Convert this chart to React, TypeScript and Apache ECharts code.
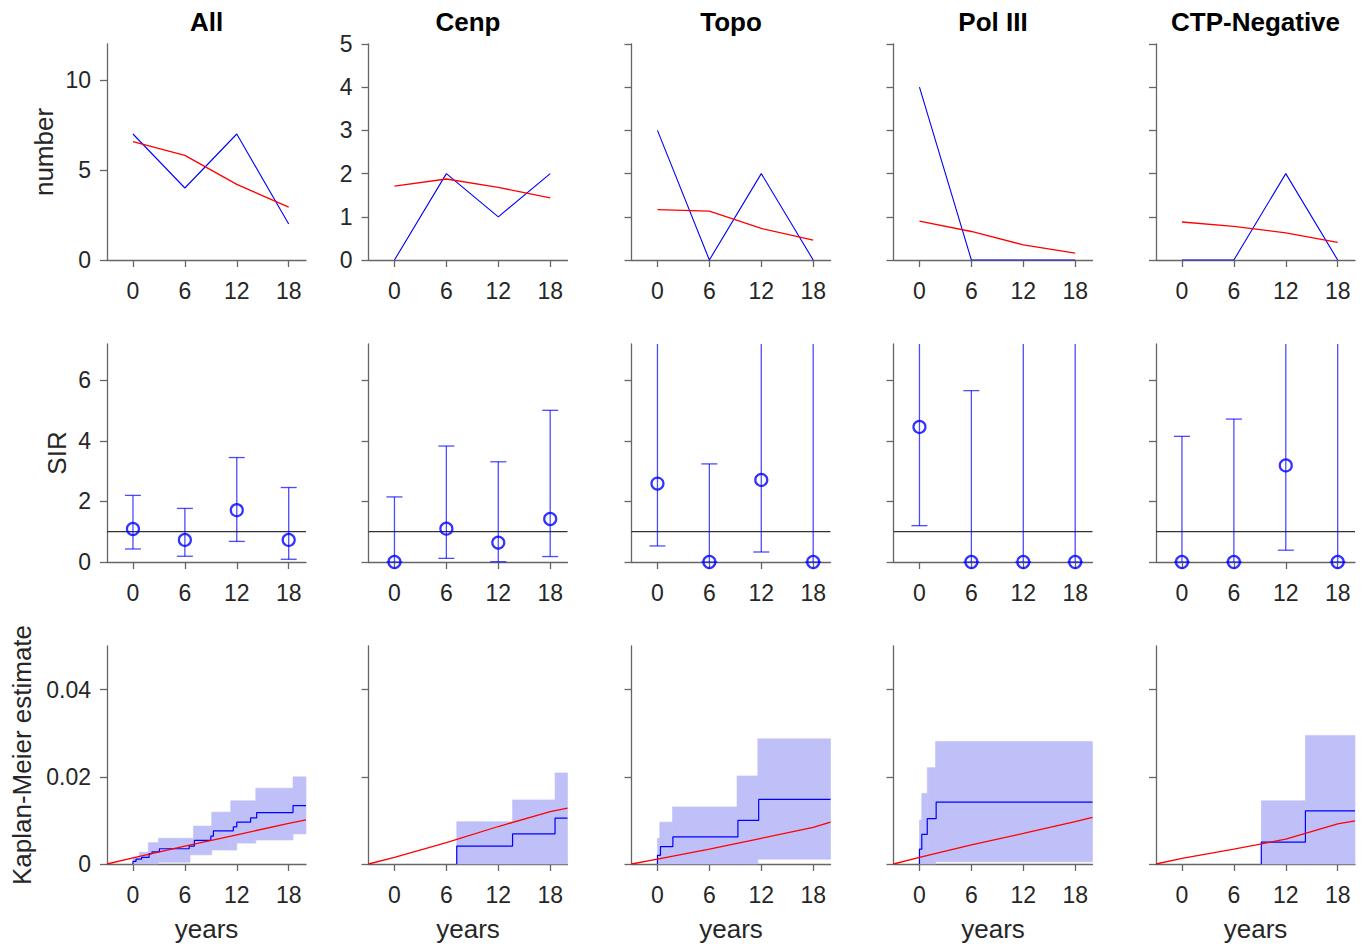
import React, { useEffect, useRef } from "react";
import * as echarts from "echarts";

// ---------------- data ----------------
const GROUPS = ["All", "Cenp", "Topo", "Pol III", "CTP-Negative"];
const YEARS = [0, 6, 12, 18];
const X_TICKS = [0, 6, 12, 18];
const X_MIN = -3;
const X_MAX = 20;

// Row 1: observed (blue) and expected (red) numbers
const OBSERVED = [
  [7, 4, 7, 2],
  [0, 2, 1, 2],
  [3, 0, 2, 0],
  [4, 0, 0, 0],
  [0, 0, 2, 0],
];
const EXPECTED = [
  [6.57, 5.81, 4.2, 2.94],
  [1.71, 1.875, 1.68, 1.44],
  [1.165, 1.13, 0.73, 0.46],
  [0.9, 0.66, 0.35, 0.16],
  [0.88, 0.78, 0.63, 0.41],
];
const NUMBER_MAX = [12, 5, 5, 5, 5];
const NUMBER_TICKS = [
  [0, 5, 10],
  [0, 1, 2, 3, 4, 5],
  [0, 1, 2, 3, 4, 5],
  [0, 1, 2, 3, 4, 5],
  [0, 1, 2, 3, 4, 5],
];

// Row 2: SIR with confidence intervals
const SIR = [
  [1.09, 0.73, 1.71, 0.73],
  [0, 1.1, 0.64, 1.42],
  [2.59, 0, 2.71, 0],
  [4.46, 0, 0, 0],
  [0, 0, 3.19, 0],
];
const SIR_LO = [
  [0.43, 0.19, 0.68, 0.09],
  [0, 0.12, 0.01, 0.18],
  [0.53, 0, 0.33, 0],
  [1.2, 0, 0, 0],
  [0, 0, 0.39, 0],
];
const SIR_HI = [
  [2.2, 1.77, 3.45, 2.46],
  [2.15, 3.83, 3.31, 5.01],
  [7.5, 3.24, 9.9, 8.0],
  [11.4, 5.66, 10.5, 23],
  [4.15, 4.72, 11.5, 9.0],
];
const SIR_REF = 1;
const SIR_MAX = 7.2;
const SIR_TICKS = [0, 2, 4, 6];

// Row 3: Kaplan-Meier step estimate (event times and values after each event)
const KM_T = [
  [0, 0.35, 1.0, 1.86, 2.2, 3.06, 6.5, 7.1, 9.0, 9.3, 11.6, 12.0, 13.6, 14.3, 18.5],
  [7.2, 13.65, 18.56],
  [0, 0.35, 1.78, 9.3, 11.7],
  [0, 0.27, 0.9, 1.93],
  [9.17, 14.27],
];
const KM_V = [
  [0.0006, 0.0011, 0.0015, 0.0024, 0.0028, 0.0035, 0.0041, 0.0054, 0.0064, 0.0076, 0.0085, 0.0096, 0.0106, 0.0118, 0.0134],
  [0.0041, 0.0069, 0.0105],
  [0.002, 0.004, 0.0062, 0.01, 0.0148],
  [0.0034, 0.0068, 0.0104, 0.0142],
  [0.005, 0.0122],
];
// confidence band: segment boundaries and lower/upper values per segment
const BAND_T = [
  [0, 0.74, 1.78, 2.94, 6.6, 7.0, 9.1, 11.3, 12.0, 14.2, 18.5, 20],
  [7.2, 13.65, 18.56, 20],
  [0, 0.27, 1.74, 9.2, 11.6, 20],
  [0, 0.27, 0.9, 1.86, 20],
  [9.17, 14.27, 20],
];
const BAND_LO = [
  [0, 0, 0, 0.0004, 0.0021, 0.0021, 0.0032, 0.0032, 0.0048, 0.0055, 0.0069],
  [0, 0, 0],
  [0, 0, 0, 0, 0.0011],
  [0, 0, 0, 0.0005],
  [0, 0],
];
const BAND_HI = [
  [0.0015, 0.0027, 0.0049, 0.0059, 0.0059, 0.0087, 0.0119, 0.0145, 0.0145, 0.0174, 0.02],
  [0.0097, 0.0147, 0.0209],
  [0.0059, 0.0096, 0.0131, 0.0202, 0.0287],
  [0.0101, 0.0162, 0.0221, 0.0281],
  [0.0145, 0.0295],
];
// expected cumulative incidence (red)
const EXP_KM_T = [-3, 0, 6, 12, 18, 20];
const EXP_KM_V = [
  [0, 0.0014, 0.0041, 0.0067, 0.0093, 0.0101],
  [0, 0.0015, 0.0049, 0.0086, 0.012, 0.0128],
  [0, 0.0011, 0.0034, 0.0059, 0.0084, 0.0096],
  [0, 0.0015, 0.0044, 0.007, 0.0097, 0.0107],
  [0, 0.0013, 0.0034, 0.0057, 0.0092, 0.0099],
];
const KM_MAX = 0.05;
const KM_TICKS = [0, 0.02, 0.04];

const ROW_NAMES = ["number", "SIR", "Kaplan-Meier estimate"];
const X_NAME = "years";

// ---------------- layout / style ----------------
const W = 1364;
const H = 946;
const COL_LEFT = [107, 368.5, 631.5, 893.5, 1156];
const COL_W = 199;
const ROW_TOP = [44, 344, 646];
const ROW_H = [216, 218, 218];
const FONT = "'Liberation Sans', Arial, Helvetica, sans-serif";
const AXIS_COLOR = "#666666";
const LABEL_COLOR = "#262626";
const BLUE = "#0000ff";
const RED = "#ff0000";
const BAND_COLOR = "#c0c0f8";
const ERR_COLOR = "rgba(0,0,255,0.7)";

function buildOption() {
  const grid: any[] = [];
  const xAxis: any[] = [];
  const yAxis: any[] = [];
  const series: any[] = [];
  const graphic: any[] = [];

  for (let r = 0; r < 3; r++) {
    for (let c = 0; c < 5; c++) {
      const idx = r * 5 + c;
      grid.push({
        left: COL_LEFT[c],
        top: ROW_TOP[r],
        width: COL_W,
        height: ROW_H[r],
        containLabel: false,
        outerBoundsMode: "none",
      });
      xAxis.push({
        gridIndex: idx,
        type: "value",
        min: X_MIN,
        max: X_MAX,
        axisLine: { show: true, onZero: false, lineStyle: { color: AXIS_COLOR, width: 1.3 } },
        axisTick: {
          show: true,
          inside: false,
          length: 7,
          customValues: X_TICKS,
          lineStyle: { color: AXIS_COLOR, width: 1.3 },
        },
        axisLabel: {
          show: true,
          customValues: X_TICKS,
          margin: 19,
          fontSize: 23,
          color: LABEL_COLOR,
          fontFamily: FONT,
        },
        splitLine: { show: false },
      });
      let yMax = 1;
      let ticks: number[] = [];
      let showLabels = false;
      let fmt: any = undefined;
      if (r === 0) {
        yMax = NUMBER_MAX[c];
        ticks = NUMBER_TICKS[c];
        showLabels = c <= 1;
      } else if (r === 1) {
        yMax = SIR_MAX;
        ticks = SIR_TICKS;
        showLabels = c === 0;
      } else {
        yMax = KM_MAX;
        ticks = KM_TICKS;
        showLabels = c === 0;
        fmt = (v: number) => (v === 0 ? "0" : v.toFixed(2));
      }
      yAxis.push({
        gridIndex: idx,
        type: "value",
        min: 0,
        max: yMax,
        axisLine: { show: true, onZero: false, lineStyle: { color: AXIS_COLOR, width: 1.3 } },
        axisTick: {
          show: true,
          inside: false,
          length: 7,
          customValues: ticks,
          lineStyle: { color: AXIS_COLOR, width: 1.3 },
        },
        axisLabel: {
          show: showLabels,
          customValues: ticks,
          margin: 16,
          fontSize: 23,
          color: LABEL_COLOR,
          fontFamily: FONT,
          formatter: fmt,
        },
        splitLine: { show: false },
      });

      if (r === 0) {
        series.push({
          type: "line",
          xAxisIndex: idx,
          yAxisIndex: idx,
          data: YEARS.map((y, i) => [y, OBSERVED[c][i]]),
          showSymbol: false,
          lineStyle: { color: BLUE, width: 1.1 },
          itemStyle: { color: BLUE },
          z: 3,
        });
        series.push({
          type: "line",
          xAxisIndex: idx,
          yAxisIndex: idx,
          data: YEARS.map((y, i) => [y, EXPECTED[c][i]]),
          showSymbol: false,
          lineStyle: { color: RED, width: 1.3 },
          itemStyle: { color: RED },
          z: 4,
        });
      } else if (r === 1) {
        series.push({
          type: "line",
          xAxisIndex: idx,
          yAxisIndex: idx,
          data: [
            [X_MIN, SIR_REF],
            [X_MAX, SIR_REF],
          ],
          showSymbol: false,
          lineStyle: { color: "#333333", width: 1.2 },
          z: 2,
        });
        const ymax = SIR_MAX;
        series.push({
          type: "custom",
          xAxisIndex: idx,
          yAxisIndex: idx,
          data: YEARS.map((y, i) => [y, SIR_LO[c][i], SIR_HI[c][i]]),
          encode: { x: 0, y: [1, 2] },
          z: 3,
          renderItem: (params: any, api: any) => {
            const x = api.value(0);
            const lo = api.value(1);
            const hi = api.value(2);
            const top = Math.min(hi, ymax);
            const pLo = api.coord([x, lo]);
            const pHi = api.coord([x, top]);
            const style = { stroke: ERR_COLOR, lineWidth: 1.3 };
            const children: any[] = [
              { type: "line", shape: { x1: pLo[0], y1: pLo[1], x2: pHi[0], y2: pHi[1] }, style },
              { type: "line", shape: { x1: pLo[0] - 8, y1: pLo[1], x2: pLo[0] + 8, y2: pLo[1] }, style },
            ];
            if (hi <= ymax) {
              children.push({
                type: "line",
                shape: { x1: pHi[0] - 8, y1: pHi[1], x2: pHi[0] + 8, y2: pHi[1] },
                style,
              });
            }
            return { type: "group", children };
          },
        });
        series.push({
          type: "scatter",
          xAxisIndex: idx,
          yAxisIndex: idx,
          data: YEARS.map((y, i) => [y, SIR[c][i]]),
          symbol: "circle",
          symbolSize: 12,
          clip: false,
          itemStyle: { color: "rgba(0,0,0,0)", borderColor: BLUE, borderWidth: 2.2 },
          z: 5,
        });
      } else {
        const bt = BAND_T[c];
        series.push({
          type: "custom",
          xAxisIndex: idx,
          yAxisIndex: idx,
          data: bt.slice(0, -1).map((t, i) => [t, bt[i + 1], BAND_LO[c][i], BAND_HI[c][i]]),
          encode: { x: [0, 1], y: [2, 3] },
          z: 1,
          renderItem: (params: any, api: any) => {
            const p0 = api.coord([api.value(0), api.value(3)]);
            const p1 = api.coord([api.value(1), api.value(2)]);
            return {
              type: "rect",
              shape: { x: p0[0], y: p0[1], width: p1[0] - p0[0], height: p1[1] - p0[1] },
              style: { fill: BAND_COLOR, stroke: BAND_COLOR, lineWidth: 0.6 },
            };
          },
        });
        const t = KM_T[c];
        const v = KM_V[c];
        const kmData: number[][] = [[t[0], 0]];
        t.forEach((tt, i) => kmData.push([tt, v[i]]));
        kmData.push([X_MAX, v[v.length - 1]]);
        series.push({
          type: "line",
          xAxisIndex: idx,
          yAxisIndex: idx,
          step: "end",
          data: kmData,
          showSymbol: false,
          lineStyle: { color: BLUE, width: 1.2 },
          itemStyle: { color: BLUE },
          z: 3,
        });
        series.push({
          type: "line",
          xAxisIndex: idx,
          yAxisIndex: idx,
          data: EXP_KM_T.map((tt, i) => [tt, EXP_KM_V[c][i]]),
          showSymbol: false,
          lineStyle: { color: RED, width: 1.3 },
          itemStyle: { color: RED },
          z: 4,
        });
      }
    }
  }

  // titles
  GROUPS.forEach((g, c) => {
    graphic.push({
      type: "text",
      x: COL_LEFT[c] + COL_W / 2,
      y: 22,
      style: {
        text: g,
        fontSize: 26,
        fontWeight: "bold",
        fontFamily: FONT,
        fill: "#000000",
        align: "center",
        verticalAlign: "middle",
      },
    });
    graphic.push({
      type: "text",
      x: COL_LEFT[c] + COL_W / 2,
      y: 929,
      style: {
        text: X_NAME,
        fontSize: 26,
        fontFamily: FONT,
        fill: LABEL_COLOR,
        align: "center",
        verticalAlign: "middle",
      },
    });
  });
  const nameX = [44, 57, 22];
  ROW_NAMES.forEach((n, r) => {
    graphic.push({
      type: "text",
      x: nameX[r],
      y: ROW_TOP[r] + ROW_H[r] / 2,
      rotation: Math.PI / 2,
      style: {
        text: n,
        fontSize: 26,
        fontFamily: FONT,
        fill: LABEL_COLOR,
        align: "center",
        verticalAlign: "middle",
      },
    });
  });

  return {
    animation: false,
    backgroundColor: "#ffffff",
    grid,
    xAxis,
    yAxis,
    series,
    graphic,
  };
}

export default function App() {
  const ref = useRef<HTMLDivElement>(null);
  useEffect(() => {
    if (!ref.current) return;
    const chart = echarts.init(ref.current, undefined, { renderer: "svg" });
    chart.setOption(buildOption() as any);
    return () => chart.dispose();
  }, []);
  return (
    <div
      ref={ref}
      style={{ position: "absolute", left: 0, top: 0, width: W, height: H, background: "#fff" }}
    />
  );
}
